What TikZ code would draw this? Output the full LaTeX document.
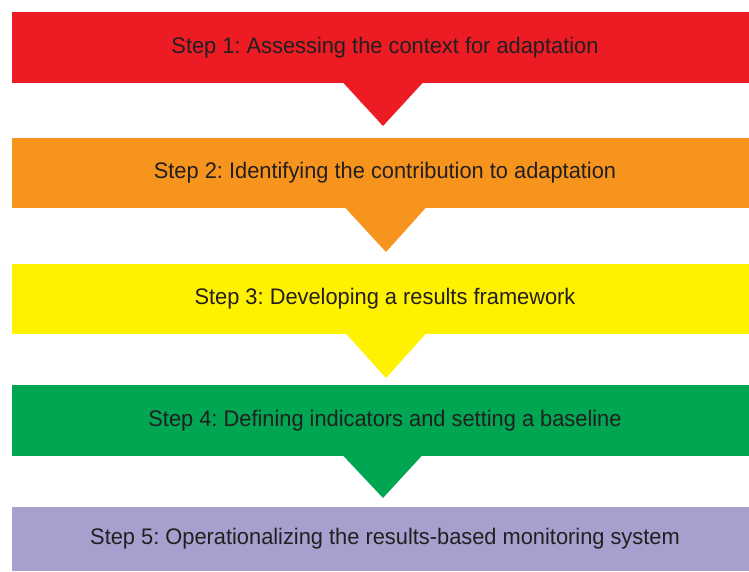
\documentclass[tikz,border=0pt]{standalone}
\usepackage{fontspec}
\setmainfont{Liberation Sans}[FakeStretch=0.97]
\usetikzlibrary{calc}
\definecolor{cone}{RGB}{237,28,36}
\definecolor{ctwo}{RGB}{247,148,30}
\definecolor{cthree}{RGB}{255,242,0}
\definecolor{cfour}{RGB}{0,166,81}
\definecolor{cfive}{RGB}{166,160,206}
\definecolor{txt}{RGB}{35,31,32}
\begin{document}
\frenchspacing
\begin{tikzpicture}[x=1pt,y=1pt,
  bar/.style={minimum width=746pt, inner sep=0pt, outer sep=0pt, text=txt,
    font=\fontsize{22.5}{26}\selectfont, anchor=north west}]
\useasboundingbox (0,0) rectangle (749,571);
\node[bar, fill=cone, minimum height=71pt] (s1) at (12,559) {Step 1: Assessing the context for adaptation};
\node[bar, fill=ctwo, minimum height=70pt] (s2) at (12,433) {Step 2: Identifying the contribution to adaptation};
\node[bar, fill=cthree, minimum height=70pt] (s3) at (12,307) {Step 3: Developing a results framework};
\node[bar, fill=cfour, minimum height=71pt] (s4) at (12,186) {Step 4: Defining indicators and setting a baseline};
\node[bar, fill=cfive, minimum height=64pt] (s5) at (12,64) {Step 5: Operationalizing the results-based monitoring system};
\fill[cone] ($(s1.south)+(-42,0.5)$) -- ($(s1.south)+(38,0.5)$) -- ($(s1.south)+(-2,-43)$) -- cycle;
\fill[ctwo] ($(s2.south)+(-40,0.5)$) -- ($(s2.south)+(41,0.5)$) -- ($(s2.south)+(1,-44)$) -- cycle;
\fill[cthree] ($(s3.south)+(-39,0.5)$) -- ($(s3.south)+(41,0.5)$) -- ($(s3.south)+(1,-44)$) -- cycle;
\fill[cfour] ($(s4.south)+(-42,0.5)$) -- ($(s4.south)+(37,0.5)$) -- ($(s4.south)+(-2,-42)$) -- cycle;
\end{tikzpicture}
\end{document}
